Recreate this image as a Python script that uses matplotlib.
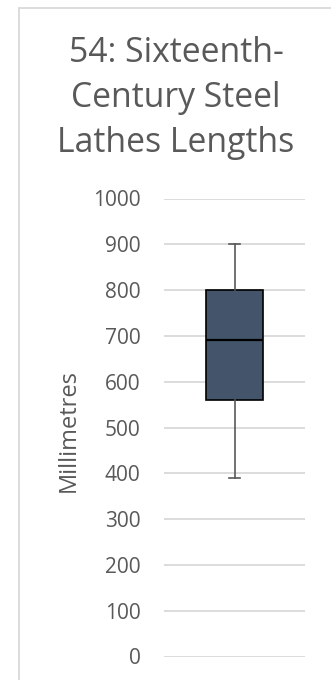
import matplotlib
matplotlib.use("Agg")
import matplotlib.pyplot as plt
from matplotlib.patches import Rectangle

# Summary statistics for the lathe lengths (mm)
categories = ["Sixteenth-Century Steel Lathes"]
q1_values = [560]
median_values = [690]
q3_values = [800]
whisker_low = [390]
whisker_high = [900]
y_ticks = [0, 100, 200, 300, 400, 500, 600, 700, 800, 900, 1000]

title = "54: Sixteenth-\nCentury Steel\nLathes Lengths"
y_label = "Millimetres"

TEXT = "#595959"
GRID = "#D9D9D9"
BOX = "#44546A"

plt.rcParams["font.family"] = ["Open Sans", "DejaVu Sans"]

W, H = 331, 680
fig = plt.figure(figsize=(W / 100, H / 100), dpi=100)
fig.patch.set_facecolor("white")

# light frame around the chart area
fig.patches.append(Rectangle((18.5 / W, -0.1), 1.2, 1 - 8.5 / H + 0.1,
                             transform=fig.transFigure, fill=False,
                             edgecolor=GRID, linewidth=1.3))

ax = fig.add_axes([164 / W, (H - 656.5) / H, (305 - 164) / W, (656.5 - 198.5) / H])

stats = []
for i, name in enumerate(categories):
    stats.append(dict(label=name, q1=q1_values[i], med=median_values[i],
                      q3=q3_values[i], whislo=whisker_low[i],
                      whishi=whisker_high[i], fliers=[]))

ax.bxp(stats, positions=[1], widths=0.40, capwidths=0.085, patch_artist=True,
       showfliers=False,
       boxprops=dict(facecolor=BOX, edgecolor="black", linewidth=1.2),
       medianprops=dict(color="black", linewidth=1.6),
       whiskerprops=dict(color=TEXT, linewidth=1.2),
       capprops=dict(color=TEXT, linewidth=1.2))

ax.set_xlim(0.5, 1.5)
ax.set_ylim(0, 1000)
ax.set_yticks(y_ticks)
ax.set_yticklabels([str(t) for t in y_ticks])
ax.set_xticks([])
ax.tick_params(axis="y", length=0, pad=17, labelsize=15, labelcolor=TEXT)
ax.yaxis.grid(True, color=GRID, linewidth=1.3)
ax.set_axisbelow(True)
for s in ax.spines.values():
    s.set_visible(False)

fig.text(69 / W, 1 - 430 / H, y_label, rotation=90, ha="center", va="center",
         fontsize=17, color=TEXT)

fig.text(176 / W, 1 - 98 / H, title, ha="center", va="center",
         fontsize=24.3, color=TEXT, linespacing=1.44)

fig.savefig("out.png", dpi=100)
